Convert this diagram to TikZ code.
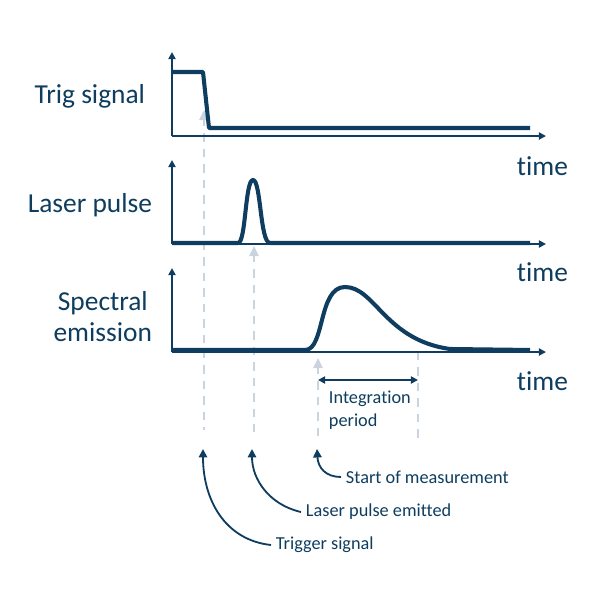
\documentclass[tikz,border=0pt]{standalone}
\usepackage{fontspec}
\setmainfont{Carlito}[Ligatures=NoCommon]
\usetikzlibrary{arrows.meta}
\definecolor{navy}{HTML}{0E3D5F}
\definecolor{pale}{HTML}{C9D4DF}
\begin{document}
\begin{tikzpicture}[x=0.025cm,y=-0.025cm,
  axis/.style={draw=navy, line width=1.3pt, -{Triangle[length=5pt,width=5pt]}},
  signal/.style={draw=navy, line width=2.9pt, line join=round},
  marker/.style={draw=pale, line width=1.3pt, dash pattern=on 6pt off 5pt},
  markertip/.style={fill=pale, draw=none},
  callout/.style={draw=navy, line width=1.3pt, -{Triangle[length=6pt,width=6pt]}},
  title/.style={text=navy, font=\fontsize{19.5}{22}\selectfont, align=center},
  note/.style={text=navy, font=\fontsize{13}{16}\selectfont, align=left}]
\useasboundingbox (0,0) rectangle (600,600);

%%%%%%%%%%%%%%%%%%%%%%%%%%%%%%%%%%%%%%%%%%% dashed markers
\draw[marker] (204,118) -- (204,430);
\draw[marker] (254,254) -- (254,432);
\draw[marker] (318,366) -- (318,436);
\draw[marker] (418,352) -- (418,443);
\fill[markertip] (204,110) -- (199,120) -- (209,120) -- cycle;
\fill[markertip] (254,246) -- (249,256) -- (259,256) -- cycle;
\fill[markertip] (318,358) -- (313,368) -- (323,368) -- cycle;

%%%%%%%%%%%%%%%%%%%%%%%%%%%%%%%%%%%%%%%%%%% trig signal
\coordinate (o1) at (172,136);
\draw[axis] (o1) -- (172,52);
\draw[axis] (o1) -- (546,136);
\draw[signal] (172,72) -- (203,72) -- (209,128) -- (530,128);
\node[title, anchor=east](trig) at (150,96){Trig signal};
\node[title, anchor=west](t1) at (512,166){time};

%%%%%%%%%%%%%%%%%%%%%%%%%%%%%%%%%%%%%%%%%%% laser pulse
\coordinate (o2) at (172,244);
\draw[axis] (o2) -- (172,160);
\draw[axis] (o2) -- (546,244);
\draw[signal] (172,243) -- (238,243) .. controls (246,243) and (245,180) .. (253,180)
  .. controls (261,180) and (260,243) .. (270,243) -- (530,243);
\node[title, anchor=east](laser) at (157,205){Laser pulse};
\node[title, anchor=west](t2) at (512,272){time};

%%%%%%%%%%%%%%%%%%%%%%%%%%%%%%%%%%%%%%%%%%% spectral emission
\coordinate (o3) at (172,352);
\draw[axis] (o3) -- (172,268);
\draw[axis] (o3) -- (546,352);
\draw[signal] (172,350) -- (305,350) .. controls (325,350) and (318,287) .. (345,287)
  .. controls (375,287) and (385,340) .. (450,349) -- (530,350);
\node[title, anchor=east](spec) at (157,317){Spectral\\emission};
\node[title, anchor=west](t3) at (512,381){time};

%%%%%%%%%%%%%%%%%%%%%%%%%%%%%%%%%%%%%%%%%%% integration period
\coordinate (ia) at (318,380);
\coordinate (ib) at (418,380);
\draw[navy, line width=1.3pt, {Triangle[length=5pt,width=5pt]}-{Triangle[length=5pt,width=5pt]}] (ia) -- (ib);
\node[note, anchor=north west](integ) at (324,386){Integration\\period};

%%%%%%%%%%%%%%%%%%%%%%%%%%%%%%%%%%%%%%%%%%% callouts
\node[note, anchor=west](start) at (341,477){Start of measurement};
\node[note, anchor=west](emit) at (301,512){Laser pulse emitted};
\node[note, anchor=west](trigger) at (271,545){Trigger signal};
\coordinate (c1) at (317,449);
\coordinate (c2) at (252,449);
\coordinate (c3) at (203,449);
\draw[callout] (start.west) .. controls (326,477) and (318,468) .. (c1);
\draw[callout] (emit.west) .. controls (270,505) and (252,480) .. (c2);
\draw[callout] (trigger.west) .. controls (225,540) and (203,500) .. (c3);
\end{tikzpicture}
\end{document}
